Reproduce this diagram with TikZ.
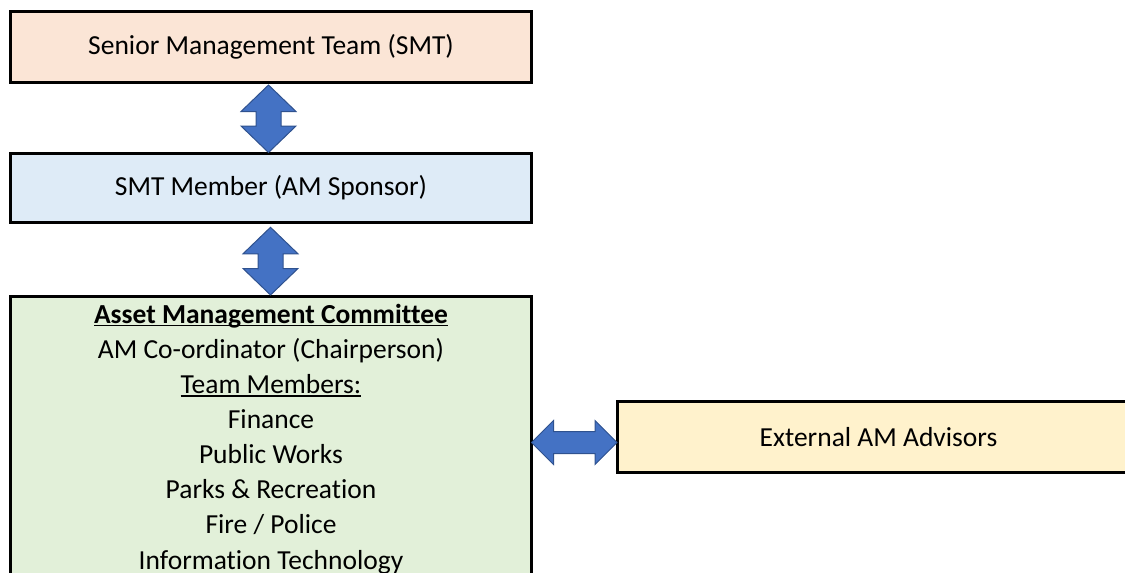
\documentclass[tikz,border=0pt]{standalone}
\usepackage{fontspec}
\setmainfont{Carlito}[Ligatures=NoCommon]
\usetikzlibrary{calc}
\definecolor{smtfill}{HTML}{FBE5D6}
\definecolor{memfill}{HTML}{DEEBF7}
\definecolor{amcfill}{HTML}{E2F0D9}
\definecolor{extfill}{HTML}{FFF2CC}
\definecolor{blkfill}{HTML}{4472C4}
\definecolor{blkdraw}{HTML}{2F528F}
\newcommand\ulbar[1]{\setbox0\hbox{#1}\rlap{\rule[-3pt]{\wd0}{1.7pt}}\box0}
\newcommand\blockV[2]{\path[blk] let \p1=#1, \p2=#2 in
  (\x1,\y1) -- (\x1+27.5pt,\y1-26.5pt) -- (\x1+12.5pt,\y1-26.5pt) -- (\x1+12.5pt,\y2+26.5pt)
  -- (\x1+27.5pt,\y2+26.5pt) -- (\x2,\y2) -- (\x1-27.5pt,\y2+26.5pt) -- (\x1-12.5pt,\y2+26.5pt)
  -- (\x1-12.5pt,\y1-26.5pt) -- (\x1-27.5pt,\y1-26.5pt) -- cycle;}
\newcommand\blockH[2]{\path[blk] let \p1=#1, \p2=#2 in
  (\x1,\y1) -- (\x1+22pt,\y1+22pt) -- (\x1+22pt,\y1+11pt) -- (\x2-22pt,\y1+11pt)
  -- (\x2-22pt,\y1+22pt) -- (\x2,\y2) -- (\x2-22pt,\y1-22pt) -- (\x2-22pt,\y1-11pt)
  -- (\x1+22pt,\y1-11pt) -- (\x1+22pt,\y1-22pt) -- cycle;}
\tikzset{
  box/.style={draw=black, line width=3pt, outer sep=0pt, inner sep=0pt, rectangle,
    font=\fontsize{27.5pt}{35pt}\selectfont},
  blk/.style={fill=blkfill, draw=blkdraw, line width=1pt, line join=miter},
  line/.style={anchor=base, inner sep=0pt, font=\fontsize{27.5pt}{35pt}\selectfont},
}
\begin{document}
\begin{tikzpicture}[x=1pt,y=-1pt]
\useasboundingbox (0,0) rectangle (1125,573);
\clip (0,0) rectangle (1125,573);
\node[box, fill=smtfill, minimum width=521pt, minimum height=71pt] (smt) at (271,47) {Senior Management Team (SMT)};
\node[box, fill=memfill, minimum width=521pt, minimum height=69pt] (mem) at (271,188) {SMT Member (AM Sponsor)};
\node[box, fill=amcfill, minimum width=521pt, minimum height=314pt] (amc) at (271,453) {};
\node[box, fill=extfill, minimum width=523pt, minimum height=71pt] (ext) at (878.5,437) {External AM Advisors};
\node[line] (l1) at (271,323.3) {\ulbar{\bfseries Asset Management Committee}};
\node[line] (l2) at (271,358.4) {AM Co-ordinator (Chairperson)};
\node[line] (l3) at (271,393.5) {\ulbar{Team Members:}};
\node[line] (l4) at (271,428.6) {Finance};
\node[line] (l5) at (271,463.7) {Public Works};
\node[line] (l6) at (271,498.8) {Parks \& Recreation};
\node[line] (l7) at (271,533.9) {Fire / Police};
\node[line] (l8) at (271,569.0) {Information Technology};
\coordinate (a1t) at ([xshift=-2.5pt,yshift=-2.5pt]smt.south);
\coordinate (a1b) at ([xshift=-2.5pt,yshift=1pt]mem.north);
\coordinate (a2t) at ([xshift=-0.5pt,yshift=-4.8pt]mem.south);
\coordinate (a2b) at ([xshift=-0.5pt,yshift=1pt]amc.north);
\coordinate (a3r) at ([yshift=-5.5pt]ext.west);
\coordinate (a3l) at (amc.east |- a3r);
\blockV{(a1t)}{(a1b)}
\blockV{(a2t)}{(a2b)}
\blockH{(a3l)}{(a3r)}
\end{tikzpicture}
\end{document}
